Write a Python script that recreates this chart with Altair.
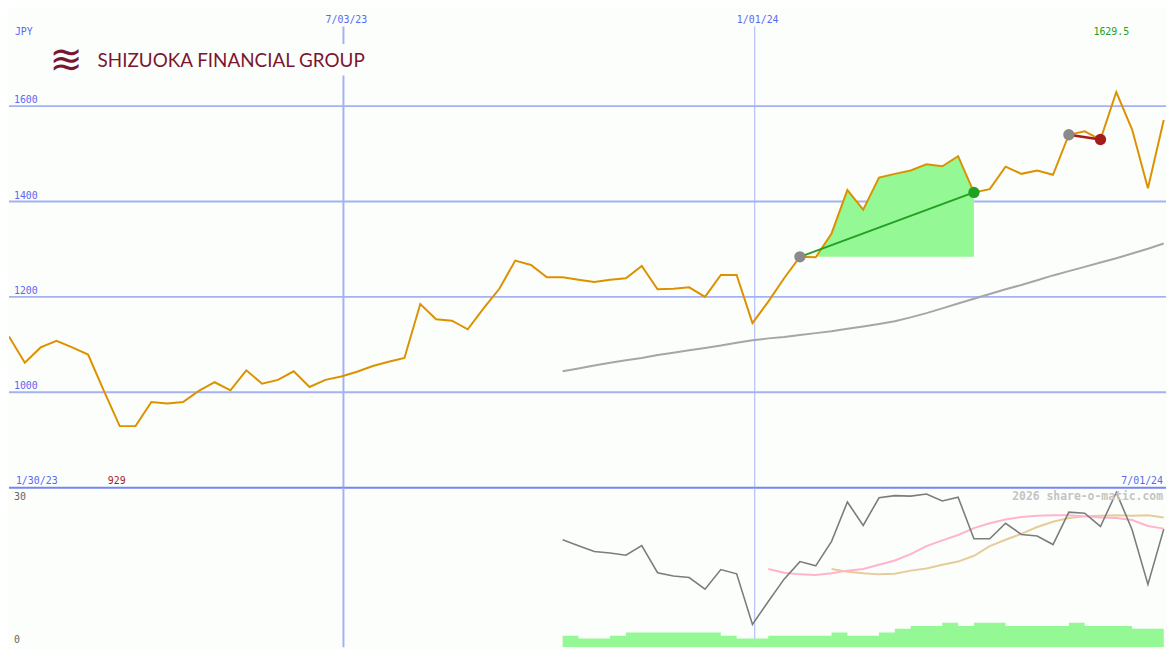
import altair as alt
import pandas as pd

# ---------------- data ----------------
start_date = "2023-02-05"          # first weekly point
end_date = "2024-07-01"

price = [1117, 1062, 1094, 1108, 1094, 1079, 1003, 929, 929, 979.5,
         976.6, 979.5, 1003, 1021, 1004, 1046, 1018, 1026, 1044, 1011,
         1026, 1033, 1043, 1055, 1064, 1072, 1185, 1153, 1150, 1132,
         1176, 1217, 1276, 1267, 1241, 1241, 1236, 1231, 1236, 1239,
         1265, 1216, 1217, 1220, 1200, 1246, 1246, 1145, 1190, 1239,
         1284, 1283, 1333, 1424, 1383, 1450, 1458, 1465, 1478, 1474,
         1495, 1419, 1426, 1473, 1458, 1465, 1456, 1540, 1547, 1530,
         1629.5, 1551, 1428, 1571]

ma_start = 35
ma_long = [1044, 1050, 1056, 1062, 1067, 1072, 1078, 1083, 1088, 1093,
           1098, 1104, 1109, 1113, 1116, 1120, 1124, 1128, 1133, 1138,
           1143, 1149, 1157, 1166, 1176, 1186, 1196, 1206, 1216, 1225,
           1235, 1245, 1254, 1263, 1272, 1281, 1291, 1301, 1312]

low_start = 35
osc = [20.2, 19.1, 18.0, 17.7, 17.3, 19.1, 14.0, 13.4, 13.1, 10.9,
       14.6, 13.8, 4.3, 8.6, 12.8, 16.1, 15.3, 19.9, 27.3, 22.9,
       28.1, 28.5, 28.4, 28.8, 27.5, 28.2, 20.4, 20.4, 23.3, 21.2,
       20.9, 19.3, 25.4, 25.2, 22.7, 29.1, 22.1, 11.8, 22.2]
volume = [2.15, 1.66, 1.66, 2.15, 2.76, 2.76, 2.76, 2.76, 2.76, 2.76,
          2.15, 1.66, 1.66, 2.15, 2.15, 2.15, 2.15, 2.76, 2.15, 2.15,
          2.76, 3.5, 4.0, 4.0, 4.6, 4.0, 4.6, 4.6, 4.0, 4.0,
          4.0, 4.0, 4.6, 4.0, 4.0, 4.0, 3.5, 3.5, 3.5]

fast_start = 48
osc_fast = [14.7, 14.0, 13.7, 13.6, 13.9, 14.4, 14.7, 15.5, 16.3, 17.5,
            19.0, 20.1, 21.1, 22.4, 23.3, 24.0, 24.5, 24.7, 24.8, 24.8,
            24.6, 24.4, 24.3, 23.9, 22.8, 22.3]
slow_start = 52
osc_slow = [14.7, 14.2, 13.9, 13.7, 13.8, 14.4, 14.8, 15.5, 16.1, 17.2,
            19.0, 20.2, 21.3, 22.6, 23.6, 24.3, 24.6, 24.7, 24.8, 24.7,
            24.8, 24.4]

up_trend = (50, 61)     # start / end index of rising trend
down_trend = (67, 69)   # start / end index of falling trend

grid_values = [1000, 1200, 1400, 1600]
grid_labels = ["1000", "1200", "1400", "1600"]
date_marks = ["2023-07-03", "2024-01-01"]
date_mark_labels = ["7/03/23", "1/01/24"]
date_mark_widths = [2, 1]

# ---------------- layout / style ----------------
W, H1, H2 = 1167, 481, 161
SX = W / 1175
SY1 = H1 / 487
SY2 = H2 / 163

FONT = "DejaVu Sans Mono"
BG = "#fcfefc"
GRID = "#a4b2f4"
LABEL = "#5a6af0"
SEP = "#7486f0"
ORANGE = "#dc9200"
MA_GRAY = "#a6a6a6"
FILL_GREEN = "#94f894"
TREND_GREEN = "#22a022"
DOWN_RED = "#a41c1c"
PT_GRAY = "#8a8a8a"
LOGO = "#7a1630"

dates = pd.date_range(start_date, periods=len(price), freq="7D")

xs = alt.Scale(domain=[alt.DateTime(year=2023, month=2, date=5),
                       alt.DateTime(year=2024, month=7, date=1)], nice=False)
ym = alt.Scale(domain=[800, 1800], nice=False, zero=False)
yl = alt.Scale(domain=[0, 30], nice=False, zero=False)
X = alt.X("date:T", scale=xs, axis=None)

one = pd.DataFrame({"a": [0]})

df_price = pd.DataFrame({"date": dates, "price": price})
df_ma = pd.DataFrame({"date": dates[ma_start:], "ma": ma_long})
df_fill = pd.DataFrame({"date": dates[up_trend[0] + 1:up_trend[1] + 1],
                        "price": price[up_trend[0] + 1:up_trend[1] + 1],
                        "base": price[up_trend[0]]})
df_up = pd.DataFrame({"date": [dates[i] for i in up_trend],
                      "price": [price[i] for i in up_trend]})
df_dn = pd.DataFrame({"date": [dates[i] for i in down_trend],
                      "price": [price[i] for i in down_trend]})
df_pts = pd.DataFrame({
    "date": [dates[up_trend[0]], dates[up_trend[1]], dates[down_trend[0]], dates[down_trend[1]]],
    "price": [price[up_trend[0]], price[up_trend[1]], price[down_trend[0]], price[down_trend[1]]],
    "kind": ["start", "up", "start2", "down"]})

imax = max(range(len(price)), key=lambda i: price[i])
imin = min(range(len(price)), key=lambda i: price[i])
df_max = pd.DataFrame({"date": [dates[imax]], "label": [f"{price[imax]:g}"]})
df_min = pd.DataFrame({"date": [dates[imin]], "label": [f"{price[imin]:g}"]})

grid_df = pd.DataFrame({"v": grid_values, "label": grid_labels})
vdf = pd.DataFrame({"date": pd.to_datetime(date_marks), "label": date_mark_labels,
                    "w": date_mark_widths})

low_dates = dates[low_start:]
df_low = pd.DataFrame({"date": low_dates, "osc": osc, "vol": volume})
df_fast = pd.DataFrame({"date": dates[fast_start:], "v": osc_fast})
df_slow = pd.DataFrame({"date": dates[slow_start:], "v": osc_slow})

# ---------------- main panel ----------------
hgrid = alt.Chart(grid_df).mark_rule(color=GRID, strokeWidth=2).encode(
    y=alt.Y("v:Q", scale=ym, axis=None))
hlab = alt.Chart(grid_df).mark_text(font=FONT, fontSize=10, color=LABEL, align="left",
                                    baseline="alphabetic", dy=-3).encode(
    x=alt.value(5 * SX), y=alt.Y("v:Q", scale=ym, axis=None), text="label:N")
vrule = alt.Chart(vdf).mark_rule(color=GRID).encode(
    x=X, y=alt.value(16 * SY1), y2=alt.value(H1),
    strokeWidth=alt.StrokeWidth("w:Q", scale=None))
vlab = alt.Chart(vdf).mark_text(font=FONT, fontSize=10, color=LABEL,
                                baseline="alphabetic", dx=3).encode(
    x=X, y=alt.value(12.5 * SY1), text="label:N")
jpy = alt.Chart(one).mark_text(font=FONT, fontSize=10, color=LABEL, align="left",
                               baseline="alphabetic", text="JPY").encode(
    x=alt.value(6 * SX), y=alt.value(25 * SY1))

logo_bg = alt.Chart(one).mark_rect(color=BG).encode(
    x=alt.value(30 * SX), x2=alt.value(362 * SX),
    y=alt.value(34 * SY1), y2=alt.value(66 * SY1))
logo_txt = alt.Chart(one).mark_text(font="Lato", fontSize=19, color=LOGO, align="left",
                                    baseline="alphabetic",
                                    text="SHIZUOKA FINANCIAL GROUP").encode(
    x=alt.value(90 * SX), y=alt.value(57.5 * SY1))
logo_icon = alt.Chart(one).mark_text(font="DejaVu Sans", fontSize=40, color=LOGO,
                                     align="center", baseline="middle", text="≋").encode(
    x=alt.value(58 * SX), y=alt.value(51 * SY1))

ma_line = alt.Chart(df_ma).mark_line(color=MA_GRAY, strokeWidth=2, clip=True).encode(
    x=X, y=alt.Y("ma:Q", scale=ym, axis=None))
fill = alt.Chart(df_fill).mark_area(color=FILL_GREEN, opacity=1).encode(
    x=X, y=alt.Y("price:Q", scale=ym, axis=None), y2="base:Q")
price_line = alt.Chart(df_price).mark_line(color=ORANGE, strokeWidth=2, clip=True).encode(
    x=X, y=alt.Y("price:Q", scale=ym, axis=None))
up_line = alt.Chart(df_up).mark_line(color=TREND_GREEN, strokeWidth=2).encode(
    x=X, y=alt.Y("price:Q", scale=ym, axis=None))
dn_line = alt.Chart(df_dn).mark_line(color=DOWN_RED, strokeWidth=2.5).encode(
    x=X, y=alt.Y("price:Q", scale=ym, axis=None))
pts = alt.Chart(df_pts).mark_circle(size=130, opacity=1).encode(
    x=X, y=alt.Y("price:Q", scale=ym, axis=None),
    color=alt.Color("kind:N", legend=None,
                    scale=alt.Scale(domain=["start", "up", "start2", "down"],
                                    range=[PT_GRAY, TREND_GREEN, PT_GRAY, DOWN_RED])))
max_lab = alt.Chart(df_max).mark_text(font=FONT, fontSize=10, color=TREND_GREEN,
                                      baseline="alphabetic", dx=-5).encode(
    x=X, y=alt.value(25 * SY1), text="label:N")
min_lab = alt.Chart(df_min).mark_text(font=FONT, fontSize=10, color="#a01c2c",
                                      baseline="alphabetic", dx=-3).encode(
    x=X, y=alt.value(483 * SY1), text="label:N")
start_lab = alt.Chart(one).mark_text(font=FONT, fontSize=10, color=LABEL, align="left",
                                     baseline="alphabetic", text="1/30/23").encode(
    x=alt.value(7 * SX), y=alt.value(483 * SY1))
end_lab = alt.Chart(one).mark_text(font=FONT, fontSize=10, color=LABEL, align="right",
                                   baseline="alphabetic", text="7/01/24").encode(
    x=alt.value(1172 * SX), y=alt.value(483 * SY1))
sep = alt.Chart(one).mark_rule(color=SEP, strokeWidth=2).encode(
    y=alt.datum(800, scale=ym))

main = alt.layer(hgrid, vrule, hlab, vlab, jpy, logo_bg, logo_icon, logo_txt,
                 ma_line, fill, price_line, up_line, dn_line, pts,
                 max_lab, min_lab, start_lab, end_lab, sep).properties(width=W, height=H1)

# ---------------- lower panel ----------------
vrule_low = alt.Chart(vdf).mark_rule(color=GRID).encode(
    x=X, y=alt.value(0), y2=alt.value(H2),
    strokeWidth=alt.StrokeWidth("w:Q", scale=None))
vol = alt.Chart(df_low).mark_area(color=FILL_GREEN, opacity=1, interpolate="step-after",
                                  clip=True).encode(
    x=X, y=alt.Y("vol:Q", scale=yl, axis=None), y2=alt.datum(0))
slow_line = alt.Chart(df_slow).mark_line(color="#e6cc9a", strokeWidth=2, clip=True).encode(
    x=X, y=alt.Y("v:Q", scale=yl, axis=None))
fast_line = alt.Chart(df_fast).mark_line(color="#ffb4cc", strokeWidth=2, clip=True).encode(
    x=X, y=alt.Y("v:Q", scale=yl, axis=None))
osc_line = alt.Chart(df_low).mark_line(color="#7c7c7c", strokeWidth=1.6, clip=True).encode(
    x=X, y=alt.Y("osc:Q", scale=yl, axis=None))
lab30 = alt.Chart(one).mark_text(font=FONT, fontSize=10, color="#666666", align="left",
                                 baseline="alphabetic", text="30").encode(
    x=alt.value(5 * SX), y=alt.value(13 * SY2))
lab0 = alt.Chart(one).mark_text(font=FONT, fontSize=10, color="#666666", align="left",
                                baseline="alphabetic", text="0").encode(
    x=alt.value(5 * SX), y=alt.value(158.7 * SY2))
wm = alt.Chart(one).mark_text(font=FONT, fontSize=11.5, fontWeight="bold", color="#c4c4c4",
                              align="right", baseline="alphabetic",
                              text="2026 share-o-matic.com").encode(
    x=alt.value(1172 * SX), y=alt.value(13 * SY2))

lower = alt.layer(vrule_low, vol, slow_line, fast_line, osc_line, lab30, lab0, wm).properties(
    width=W, height=H2)

chart = alt.vconcat(main, lower, spacing=0, bounds="flush").resolve_scale(
    y="independent").properties(padding=0, background=BG).configure_view(stroke=None)

chart.save("out.html", embed_options={"renderer": "svg", "actions": False})
